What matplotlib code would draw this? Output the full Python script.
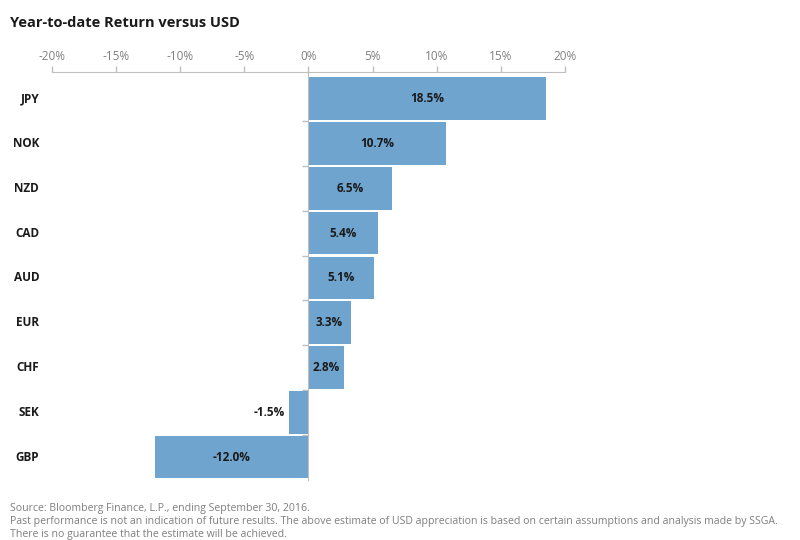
import matplotlib
matplotlib.use("Agg")
import matplotlib.pyplot as plt
import matplotlib.transforms as mtransforms
import numpy as np

plt.rcParams['font.family'] = ['Open Sans', 'DejaVu Sans']

currencies = ["JPY", "NOK", "NZD", "CAD", "AUD", "EUR", "CHF", "SEK", "GBP"]
returns = [18.5, 10.7, 6.5, 5.4, 5.1, 3.3, 2.8, -1.5, -12.0]
xticks = [-20, -15, -10, -5, 0, 5, 10, 15, 20]

bar_color = "#6fa4cf"
grey = "#bfbfbf"

fig = plt.figure(figsize=(8, 5.4), dpi=100)
ax = fig.add_axes([0.065, 0.111, 0.641, 0.756])

y = np.arange(len(currencies))
ax.barh(y, returns, height=0.95, color=bar_color, edgecolor="none", zorder=2)

ax.set_xlim(-20, 20)
ax.set_ylim(len(currencies) - 0.49, -0.6)

# percentage axis on top
ax.xaxis.set_ticks_position("top")
ax.set_xticks(xticks)
ax.set_xticklabels([f"{t}%" for t in xticks], color="#7f7f7f", fontsize=8.5)
ax.tick_params(axis="x", direction="out", length=4, color=grey, width=1, pad=2)

for side in ["right", "bottom"]:
    ax.spines[side].set_visible(False)
ax.spines["top"].set_color(grey)
ax.spines["left"].set_position(("data", 0))
ax.spines["left"].set_color(grey)
ax.spines["left"].set_zorder(3)

# category separators on the zero line
ax.set_yticks(np.arange(1, len(currencies)) - 0.5)
ax.set_yticklabels([])
ax.tick_params(axis="y", direction="out", length=4, color=grey, width=1)

# category labels at the left margin
trans = mtransforms.blended_transform_factory(ax.transAxes, ax.transData)
for yi, name in zip(y, currencies):
    ax.text(-0.025, yi, name, transform=trans, ha="right", va="center",
            fontsize=8.5, fontweight="bold", color="#1a1a1a")

# value labels
for yi, v in zip(y, returns):
    label = f"{v:.1f}%"
    if abs(v) < 2:
        ax.text(v - 0.35, yi, label, ha="right", va="center",
                fontsize=8.5, fontweight="bold", color="#1a1a1a")
    else:
        ax.text(v / 2, yi, label, ha="center", va="center",
                fontsize=8.5, fontweight="bold", color="#1a1a1a", zorder=4)

fig.text(0.0125, 0.958, "Year-to-date Return versus USD", fontsize=10.5,
         fontweight="bold", color="#1a1a1a", va="center", ha="left")

notes = [
    "Source: Bloomberg Finance, L.P., ending September 30, 2016.",
    "Past performance is not an indication of future results. The above estimate of USD appreciation is based on certain assumptions and analysis made by SSGA.",
    "There is no guarantee that the estimate will be achieved.",
]
for i, line in enumerate(notes):
    fig.text(0.0125, 1 - (509 + 12.5 * i) / 540, line, fontsize=7.6,
             color="#7f7f7f", va="center", ha="left")

fig.savefig("out.png", dpi=100)
